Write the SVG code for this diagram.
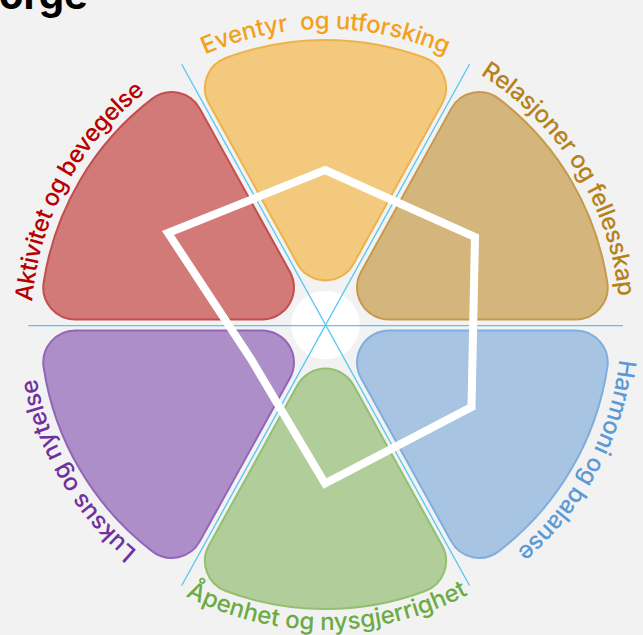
<svg xmlns="http://www.w3.org/2000/svg" width="643" height="635" viewBox="0 0 643 635">
<style>
.lbl{font-family:Inter,"Liberation Sans",sans-serif;font-size:24px;font-weight:500}
.petal{stroke-width:2}
.guide{stroke:#52c8f2;stroke-width:1.3;fill:none}
</style>
<defs>
<path id="pA" d="M185.2,584.5 A295,295 0 0 1 465.8,65.5"/>
<path id="pE" d="M29.5,325 A296,296 0 0 1 621.5,325"/>
<path id="pR" d="M169.1,73.7 A296,296 0 0 1 481.9,576.3"/>
<path id="pH" d="M465.4,64.1 A296,296 0 0 1 185.6,585.9"/>
<path id="pL" d="M473.9,578.8 A294,294 0 0 1 177.1,71.2"/>
<path id="pO" d="M20.5,326.6 A305,305 0 0 0 630.5,323.4"/>
</defs>
<rect width="643" height="635" fill="#f2f2f2"/>
<text x="-1" y="9" font-family="Inter,'Liberation Sans',sans-serif" font-weight="700" font-size="40" fill="#000">orge</text>
<circle id="hub" cx="325.5" cy="325" r="34.3" fill="#ffffff"/>
<g id="connectors">
<line class="guide" x1="28.3" y1="325.7" x2="623" y2="325.7"/>
<line class="guide" x1="181.7" y1="64.3" x2="469.5" y2="585.5"/>
<line class="guide" x1="469.5" y1="64.3" x2="181.7" y2="585.5"/>
</g>
<g id="petal-aktivitet">
<path class="petal" fill="#d27a78" stroke="#c24e4e" d="M261.97,319.5 L75.3,319.5 A32,32 0 0 1 43.65,282.76 A285,285 0 0 1 152.3,98.66 A32,32 0 0 1 199.76,108.61 L289.99,272.03 A32,32 0 0 1 261.97,319.5 Z"/>
<text class="lbl" fill="#b80000"><textPath href="#pA" startOffset="50%" text-anchor="middle" textLength="245" lengthAdjust="spacing">Aktivitet og bevegelse</textPath></text>
</g>
<g id="petal-eventyr">
<path class="petal" fill="#f3c97d" stroke="#efb24a" d="M353.5,263.9 L442.08,103.46 A32,32 0 0 0 425.27,58.02 A285,285 0 0 0 225.73,58.02 A32,32 0 0 0 208.92,103.46 L297.5,263.9 A32,32 0 0 0 353.5,263.9 Z"/>
<text class="lbl" fill="#f4a11a" xml:space="preserve"><textPath href="#pE" startOffset="50%" text-anchor="middle" textLength="248" lengthAdjust="spacing">Eventyr  og utforsking</textPath></text>
</g>
<g id="petal-relasjoner">
<path class="petal" fill="#d4b57b" stroke="#c69a4e" d="M389.03,319.5 L575.7,319.5 A32,32 0 0 0 607.35,282.76 A285,285 0 0 0 498.7,98.66 A32,32 0 0 0 451.24,108.61 L361.01,272.03 A32,32 0 0 0 389.03,319.5 Z"/>
<text class="lbl" fill="#b7811a"><textPath href="#pR" startOffset="50%" text-anchor="middle" textLength="271" lengthAdjust="spacing">Relasjoner og fellesskap</textPath></text>
</g>
<g id="petal-harmoni">
<path class="petal" fill="#a7c5e3" stroke="#80ade0" d="M389.03,330.5 L575.7,330.5 A32,32 0 0 1 607.35,367.24 A285,285 0 0 1 498.7,551.34 A32,32 0 0 1 451.24,541.39 L361.01,377.97 A32,32 0 0 1 389.03,330.5 Z"/>
<text class="lbl" fill="#5b9bd5"><textPath href="#pH" startOffset="50%" text-anchor="middle" textLength="223" lengthAdjust="spacing">Harmoni og balanse</textPath></text>
</g>
<g id="petal-apenhet">
<path class="petal" fill="#b0cd9a" stroke="#93c070" d="M353.5,385.1 L442.08,545.54 A32,32 0 0 1 425.27,590.98 A285,285 0 0 1 225.73,590.98 A32,32 0 0 1 208.92,545.54 L297.5,385.1 A32,32 0 0 1 353.5,385.1 Z"/>
<text class="lbl" fill="#6aab45"><textPath href="#pO" startOffset="50%" text-anchor="middle" textLength="294" lengthAdjust="spacing">Åpenhet og nysgjerrighet</textPath></text>
</g>
<g id="petal-luksus">
<path class="petal" fill="#ae8ec8" stroke="#9265bb" d="M261.97,330.5 L75.3,330.5 A32,32 0 0 0 43.65,367.24 A285,285 0 0 0 152.3,551.34 A32,32 0 0 0 199.76,541.39 L289.99,377.97 A32,32 0 0 0 261.97,330.5 Z"/>
<text class="lbl" fill="#7030a0"><textPath href="#pL" startOffset="50%" text-anchor="middle" textLength="204" lengthAdjust="spacing">Luksus og nytelse</textPath></text>
</g>
<g id="radar">
<polygon points="325,170 475,237 471.5,407 325,483.5 251,359 168,233" fill="none" stroke="#ffffff" stroke-width="8" stroke-linejoin="miter"/>
</g>
</svg>
